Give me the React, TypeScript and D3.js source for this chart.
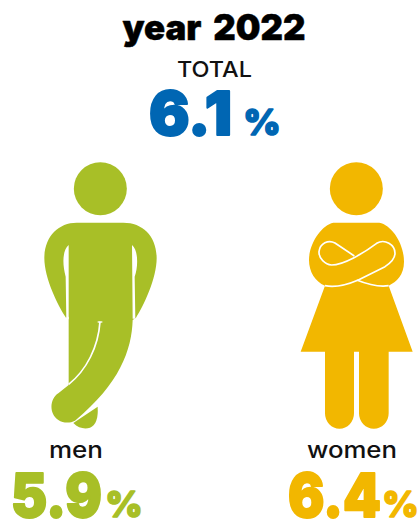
import React from "react";
import * as d3 from "d3";

const title = "year 2022";
const totalLabel = "TOTAL";
const totalValue = 6.1;
const groups = ["men", "women"];
const groupValues = [5.9, 6.4];
const groupColors = ["#a8bf27", "#f2b700"];
const totalColor = "#0066b3";
const font = "Inter, 'Open Sans', sans-serif";

const fmt = d3.format(".1f");
const labelX = d3.scaleOrdinal<string, number>().domain(groups).range([76, 352]);
const numX = d3.scaleOrdinal<string, [number, number, number, number]>()
  .domain(groups)
  .range([[11, 91, 105.5, 37], [288, 93, 382.5, 36]]);
const labelW = d3.scaleOrdinal<string, number>().domain(groups).range([54, 90]);

const manBody =
  "M140 218 L280 218 C340 218 380 260 380 325 C380 385 340 470 318 503 L308 510 C305 600 270 700 135 812 C120 820 100 820 85 810 C55 790 60 745 85 730 L116 705 L116 500 L108 503 C85 470 43 385 43 325 C43 260 85 218 140 218 Z";
const manBackFoot = "M130 819 L203 770 C205 805 198 825 180 833 C165 838 145 835 130 819 Z";
const manCutL = "M116 285 C98 300 96 340 107 380 L109 508 L116 508 Z";
const manCutR = "M306 285 C325 300 325 350 314 380 L316 506 L308 506 Z";
const manLeg = "M210 515 C205 590 170 660 116 703";

const womanBody =
  "M130 218 L268 218 C305 225 342 280 342 335 C342 375 320 395 296 407 L368 605 L296 605 L296 790 A44.5 46 0 0 1 207 790 L207 605 L192 605 L192 790 A43.5 46 0 0 1 105 790 L105 605 L32 605 L105 407 C75 395 57 365 57 330 C57 280 95 225 130 218 Z";
const womanArm1 =
  "M193 318 L135 279 C115 268 90 280 87 305 C86 325 105 343 125 345 C160 345 220 310 260 280 C285 265 315 285 315 310 C315 325 300 340 285 350 L205 390 C170 405 130 412 105 407";
const womanArm2 = "M200 390 C225 400 265 412 296 407";

const heavy = (c: string, w: number) => ({ fill: c, stroke: c, strokeWidth: w, strokeLinejoin: "round" as const });

export default function App() {
  return (
    <svg width={419} height={519} style={{ position: "absolute", left: 0, top: 0, background: "#fff" }} fontFamily={font}>
      <text x={122.5} y={40} fontSize={35} fontWeight={900} wordSpacing={5} textLength={183} lengthAdjust="spacingAndGlyphs" {...heavy("#000", 0.5)}>{title}</text>
      <text x={177} y={77} fontSize={22} fontWeight={500} textLength={75} lengthAdjust="spacingAndGlyphs" fill="#111">{totalLabel}</text>
      <text x={149} y={134.5} fontSize={61} fontWeight={900} textLength={83} lengthAdjust="spacingAndGlyphs" {...heavy(totalColor, 2)}>{fmt(totalValue)}</text>
      <text x={243.5} y={134.5} fontSize={36} fontWeight={900} textLength={37} lengthAdjust="spacingAndGlyphs" {...heavy(totalColor, 1.5)}>%</text>

      <g transform="translate(30,150) scale(0.33333)">
        <circle cx={211} cy={116} r={79.5} fill={groupColors[0]} />
        <path d={manBody} fill={groupColors[0]} />
        <path d={manBackFoot} fill={groupColors[0]} />
        <path d={manCutL} fill="#fff" />
        <path d={manCutR} fill="#fff" />
        <path d={manLeg} fill="none" stroke="#fff" strokeWidth={5} />
        <rect x={203} y={514} width={14} height={4} fill="#fff" />
      </g>
      <g transform="translate(290,150) scale(0.33333)">
        <circle cx={199} cy={116} r={79.5} fill={groupColors[1]} />
        <path d={womanBody} fill={groupColors[1]} />
        <path d={womanArm1} fill="none" stroke="#fff" strokeWidth={5} strokeLinejoin="round" />
        <path d={womanArm2} fill="none" stroke="#fff" strokeWidth={5} />
      </g>

      {groups.map((g, i) => {
        const [nx, nw, px, pw] = numX(g);
        return (
          <g key={g}>
            <text x={labelX(g)} y={458} fontSize={23} fontWeight={500} textAnchor="middle" textLength={labelW(g)} lengthAdjust="spacingAndGlyphs" fill="#111">{g}</text>
            <text x={nx} y={516.5} fontSize={61} fontWeight={900} textLength={nw} lengthAdjust="spacingAndGlyphs" {...heavy(groupColors[i], 2)}>{fmt(groupValues[i])}</text>
            <text x={px} y={516.5} fontSize={36} fontWeight={900} textLength={pw} lengthAdjust="spacingAndGlyphs" {...heavy(groupColors[i], 1.5)}>%</text>
          </g>
        );
      })}
    </svg>
  );
}
